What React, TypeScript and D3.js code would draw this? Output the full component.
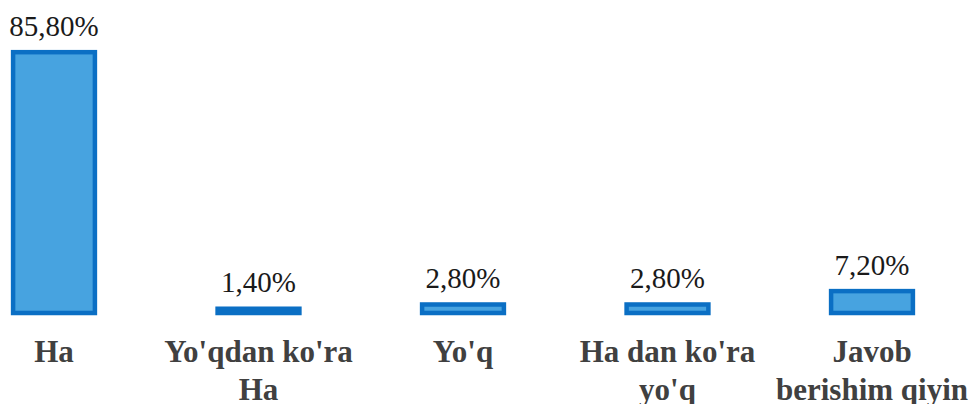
import * as d3 from "d3";

const categories = ["Ha", "Yo'qdan ko'ra Ha", "Yo'q", "Ha dan ko'ra yo'q", "Javob berishim qiyin"];
const categoryLines = [["Ha"], ["Yo'qdan ko'ra", "Ha"], ["Yo'q"], ["Ha dan ko'ra", "yo'q"], ["Javob", "berishim qiyin"]];
const values = [85.8, 1.4, 2.8, 2.8, 7.2];
const valueLabels = ["85,80%", "1,40%", "2,80%", "2,80%", "7,20%"];

export default function App() {
    const width = 971;
    const height = 404;

    const x = d3.scalePoint(categories, [54, 872]);
    const y = d3.scaleLinear([0, 100], [313, 9]);
    const barW = x.step() * 0.4;
    const sw = 4.5;

    return (
        <div style={{ position: "absolute", left: 0, top: 0, fontFamily: "'Liberation Serif', serif" }}>
            <svg width={width} height={height} style={{ display: "block", fontFamily: "'Liberation Serif', serif" }}>
                {values.map((v, i) => (
                    <rect key={"b" + i}
                        x={x(categories[i]) - barW / 2}
                        y={y(v)}
                        width={barW}
                        height={y(0) - y(v)}
                        fill="#47a3e0" stroke="#0b6fc4" strokeWidth={sw} />
                ))}
                {values.map((v, i) => (
                    <text key={"v" + i}
                        x={x(categories[i])}
                        y={y(v) - sw / 2 - 14}
                        textAnchor="middle"
                        fontFamily="Liberation Serif" fontSize={29} fill="#1a1a1a">
                        {valueLabels[i]}
                    </text>
                ))}
                {categories.map((c, i) => (
                    <text key={"c" + i} x={x(c)} y={362} textAnchor="middle"
                        style={{ fontFamily: "'Liberation Serif', 'Times New Roman', serif", fontSize: 31, fontWeight: 700 }}
                        fill="#404040">
                        {categoryLines[i].map((t, j) => (
                            <tspan key={j} x={x(c)} dy={j === 0 ? 0 : 38}>{t}</tspan>
                        ))}
                    </text>
                ))}
            </svg>
        </div>
    );
}
